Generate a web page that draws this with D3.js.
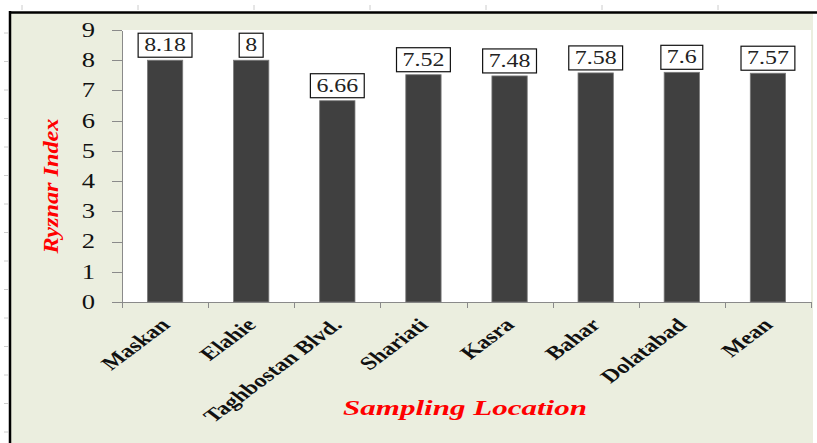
<!DOCTYPE html>
<html lang="en">
<head>
  <meta charset="UTF-8">
  <title>Ryznar Index</title>
  <script src="https://d3js.org/d3.v7.min.js" charset="utf-8"></script>
  <style>
    body { margin: 0; background: #fff; }
    .axis path, .axis line { fill: none; stroke: #8a8a8a; shape-rendering: crispEdges; }
  </style>
</head>
<body>
<div class="chart"></div>
<script>
  var locations = ['Maskan', 'Elahie', 'Taghbostan Blvd.', 'Shariati', 'Kasra', 'Bahar', 'Dolatabad', 'Mean']
  var barValues = [8, 8, 6.66, 7.52, 7.48, 7.58, 7.6, 7.57]
  var valueLabels = ['8.18', '8', '6.66', '7.52', '7.48', '7.58', '7.6', '7.57']
  var yTicks = [0, 1, 2, 3, 4, 5, 6, 7, 8, 9]

  var width = 817
  var height = 443
  var sx = 1.33 // the picture is stretched sideways, so the text is too

  var svg = d3.select('.chart')
    .append('svg')
    .attr('width', width)
    .attr('height', height)

  svg.append('rect').attr('width', width).attr('height', height).attr('fill', '#fff')

  // faint ruler ticks round the frame
  for (let i = 0; i < 7; i++)
    svg.append('line').attr('x1', 22 + i * 116).attr('x2', 22 + i * 116)
      .attr('y1', 5).attr('y2', 10).attr('stroke', '#ccc')
  for (let i = 0; i < 15; i++)
    svg.append('line').attr('x1', 4).attr('x2', 8)
      .attr('y1', 33 + i * 28.5).attr('y2', 33 + i * 28.5).attr('stroke', '#ccc')

  // chart area + frame
  svg.append('rect').attr('x', 10).attr('y', 12).attr('width', 803).attr('height', height - 12)
    .attr('fill', '#ebeedf')
  svg.append('line').attr('x1', 9).attr('x2', width).attr('y1', 12.5).attr('y2', 12.5)
    .attr('stroke', '#000').attr('stroke-width', 2.5)
  svg.append('line').attr('x1', 10).attr('x2', 10).attr('y1', 11).attr('y2', height)
    .attr('stroke', '#000').attr('stroke-width', 2.5)

  var plotL = 122, plotR = 811, plotT = 30, plotB = 302

  svg.append('rect').attr('x', plotL).attr('y', plotT)
    .attr('width', plotR - plotL).attr('height', plotB - plotT).attr('fill', '#fff')

  var y = d3.scaleLinear().domain([0, 9]).range([plotB, plotT])
  var x = d3.scaleBand().domain(locations).range([plotL, plotR])
    .paddingInner(0.59).paddingOuter(0.295)

  // y axis
  var gy = svg.append('g').attr('class', 'axis')
    .attr('transform', 'translate(' + plotL + ',0)')
    .call(d3.axisLeft(y).tickValues(yTicks).tickSize(10).tickSizeOuter(0).tickPadding(17))
  gy.selectAll('text')
    .attr('x', null)
    .attr('transform', 'translate(-27,0) scale(' + sx + ',1)')
    .attr('font-family', '"Liberation Serif", serif')
    .attr('font-size', 20)
    .attr('fill', '#111')

  // x axis: line and ticks between categories
  var gx = svg.append('g').attr('class', 'axis')
  gx.append('line').attr('x1', plotL).attr('x2', plotR).attr('y1', plotB + 0.5).attr('y2', plotB + 0.5)
  var gap = (x.step() - x.bandwidth()) / 2
  var bounds = locations.map(d => x(d) - gap).concat([plotR])
  gx.selectAll('.tk').data(bounds).enter().append('line')
    .attr('class', 'tk')
    .attr('x1', d => Math.round(d) + 0.5).attr('x2', d => Math.round(d) + 0.5)
    .attr('y1', plotB).attr('y2', plotB + 6)

  // bars
  svg.selectAll('.bar').data(barValues).enter().append('rect')
    .attr('class', 'bar')
    .attr('x', (d, i) => x(locations[i]))
    .attr('y', d => y(d))
    .attr('width', x.bandwidth())
    .attr('height', d => plotB - y(d))
    .attr('fill', '#404040')
    .attr('stroke', '#7a7a7a')
    .attr('stroke-width', 0.8)

  // value labels in boxes
  var lab = svg.selectAll('.lab').data(valueLabels).enter().append('g')
    .attr('class', 'lab')
    .attr('transform', (d, i) => 'translate(' + (x(locations[i]) + x.bandwidth() / 2) + ',' + (y(barValues[i]) - 3) + ')')
  lab.append('rect')
    .attr('y', -24).attr('height', 24)
    .attr('fill', '#fff').attr('stroke', '#111').attr('stroke-width', 1.2)
  lab.append('text')
    .attr('transform', 'translate(0,-6) scale(' + sx + ',1)')
    .attr('text-anchor', 'middle')
    .attr('font-family', '"Liberation Serif", serif')
    .attr('font-size', 18)
    .attr('fill', '#222')
    .text(d => d)
  lab.each(function () {
    var w = this.querySelector('text').getBBox().width * sx + 12
    d3.select(this).select('rect').attr('x', -w / 2).attr('width', w)
  })

  // category labels
  svg.selectAll('.cat').data(locations).enter().append('text')
    .attr('class', 'cat')
    .attr('transform', d => 'translate(' + (x(d) + x.bandwidth() / 2 + 6) + ',326) scale(' + sx + ',1) rotate(-45)')
    .attr('text-anchor', 'end')
    .attr('font-family', '"Liberation Serif", serif')
    .attr('font-weight', 'bold')
    .attr('font-size', 18.5)
    .attr('fill', '#111')
    .text(d => d)

  // axis titles
  svg.append('text')
    .attr('x', 465).attr('y', 415)
    .attr('text-anchor', 'middle')
    .attr('font-family', '"Liberation Serif", serif')
    .attr('font-weight', 'bold').attr('font-style', 'italic')
    .attr('font-size', 21)
    .attr('fill', '#ff0000')
    .attr('textLength', 244).attr('lengthAdjust', 'spacingAndGlyphs')
    .text('Sampling Location')

  svg.append('text')
    .attr('transform', 'translate(58,186) rotate(-90)')
    .attr('text-anchor', 'middle')
    .attr('font-family', '"Liberation Serif", serif')
    .attr('font-weight', 'bold').attr('font-style', 'italic')
    .attr('font-size', 20)
    .attr('fill', '#ff0000')
    .attr('textLength', 135).attr('lengthAdjust', 'spacingAndGlyphs')
    .text('Ryznar Index')
</script>
</body>
</html>
